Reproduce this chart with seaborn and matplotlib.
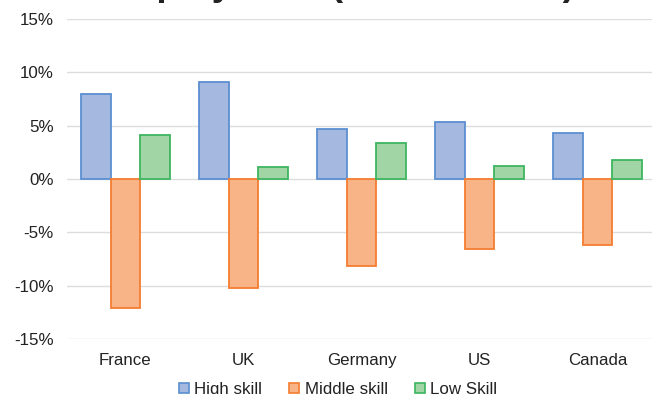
import matplotlib
matplotlib.use("Agg")
import matplotlib.pyplot as plt
import seaborn as sns
import pandas as pd
from matplotlib.ticker import FuncFormatter
from matplotlib.patches import Patch

countries = ["France", "UK", "Germany", "US", "Canada"]
skills = ["High skill", "Middle skill", "Low Skill"]
high_skill = [8.0, 9.1, 4.7, 5.3, 4.3]
middle_skill = [-12.1, -10.2, -8.2, -6.6, -6.2]
low_skill = [4.1, 1.1, 3.4, 1.2, 1.8]
yticks = [-15, -10, -5, 0, 5, 10, 15]
title = "Employment (1993 to 2010)"

fills = ["#A4B8E0", "#F8B386", "#A2D5A6"]
edges = ["#5B8FD0", "#F47D30", "#3DB560"]

rows = []
for name, vals in zip(skills, [high_skill, middle_skill, low_skill]):
    for c, v in zip(countries, vals):
        rows.append({"country": c, "skill": name, "value": v})
df = pd.DataFrame(rows)

sns.set_theme(style="white")
plt.rcParams["font.family"] = ["Liberation Sans", "DejaVu Sans"]

fig = plt.figure(figsize=(6.52, 3.94), dpi=100)
ax = fig.add_axes([66.5 / 652, 55 / 394, 590 / 652, 320 / 394])

sns.barplot(data=df, x="country", y="value", hue="skill", order=countries,
            hue_order=skills, palette=fills, saturation=1, width=0.76, ax=ax,
            legend=False, linewidth=1.3, errorbar=None)
for cont, ec in zip(ax.containers, edges):
    for p in cont:
        p.set_edgecolor(ec)

ax.set_ylim(-15, 15)
ax.set_yticks(yticks)
ax.yaxis.set_major_formatter(FuncFormatter(lambda v, _: f"{int(v)}%"))
ax.yaxis.grid(True, color="#DDDDDD", lw=1)
ax.set_axisbelow(True)
for s in ax.spines.values():
    s.set_visible(False)
ax.tick_params(axis="both", length=0, labelsize=12.2, colors="#222222")
ax.tick_params(axis="x", pad=10)
ax.tick_params(axis="y", pad=9)
ax.set_xlabel("")
ax.set_ylabel("")

handles = [Patch(facecolor=f, edgecolor=e, lw=1.2) for f, e in zip(fills, edges)]
fig.legend(handles, skills, loc="center", bbox_to_anchor=(338 / 652, 1 - 389.5 / 394),
           ncol=3, frameon=False, fontsize=12.2, handlelength=0.6, handleheight=0.6,
           handletextpad=0.3, columnspacing=1.6, labelcolor="#222222")

fig.text(99 / 652, 1 + 5 / 394, title, ha="left", va="baseline",
         fontsize=26.6, fontweight="bold", color="#222222")

fig.savefig("out.png", dpi=100)
